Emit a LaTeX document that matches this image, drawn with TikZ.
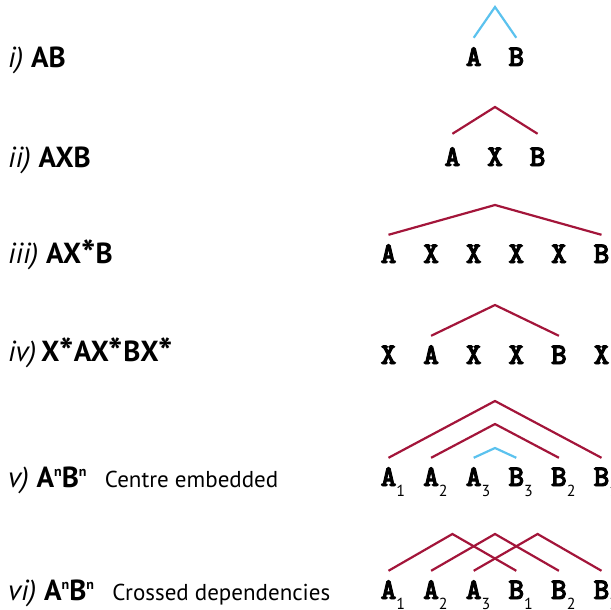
\documentclass[tikz,border=0pt]{standalone}
\usepackage{fontspec}
\usetikzlibrary{positioning}
\newfontfamily\labfont{PT Sans}
\newfontfamily\letterfont{lmmonolt10-bold}[Extension=.otf, FakeBold=3]
\definecolor{arcred}{HTML}{A3153A}
\definecolor{arcblue}{HTML}{5BC2EE}
\tikzset{
  sym/.style={anchor=base, inner sep=0pt, text height=28pt, text depth=0pt,
    font=\letterfont\fontsize{30}{30}\selectfont},
  rowlabel/.style={anchor=base west, inner sep=0pt, font=\labfont\fontsize{29}{29}\selectfont},
  note/.style={anchor=base west, inner sep=0pt, font=\labfont\fontsize{23}{23}\selectfont},
  redarc/.style={draw=arcred, line width=2.2pt},
  bluearc/.style={draw=arcblue, line width=2.2pt}
}
\newcommand{\idx}[1]{\rlap{\raisebox{-10pt}{\labfont\mdseries\fontsize{16}{16}\selectfont #1}}}
\newcommand{\supn}{\raisebox{11pt}{\fontsize{14}{14}\selectfont n}}
\newcommand{\kstar}{\raisebox{-4pt}{\fontsize{38}{38}\selectfont *}}

\begin{document}
\begin{tikzpicture}[x=1pt, y=-1pt]
    \useasboundingbox (0,0) rectangle (611,610);
    % row labels
    \node[rowlabel] (lab-1) at (8,68) {\textit{i)} \textbf{AB}};
    \node[rowlabel] (lab-2) at (8,167) {\textit{ii)} \textbf{AXB}};
    \node[rowlabel] (lab-3) at (8,263) {\textit{iii)} \textbf{AX\kstar B}};
    \node[rowlabel] (lab-4) at (8,361) {\textit{iv)}\,\textbf{X\kstar AX\kstar BX\kstar}};
    \node[rowlabel] (lab-5) at (8,487) {\textit{v)} \textbf{A\supn B\supn}};
    \node[rowlabel] (lab-6) at (8,600) {\textit{vi)} \textbf{A\supn B\supn}};
    \node[note, right=18pt of lab-5.base east, anchor=base west] (note-5) {Centre embedded};
    \node[note, right=18pt of lab-6.base east, anchor=base west] (note-6) {Crossed dependencies};

    % i) AB
    \node[sym] (a-1-1) at (473.7,66) {A};
    \node[sym] (a-1-2) at (516.3,66) {B};
    % ii) AXB
    \node[sym] (a-2-1) at (452.4,166) {A};
    \node[sym] (a-2-2) at (495,166) {X};
    \node[sym] (a-2-3) at (537.6,166) {B};
    % iii) AX*B
    \node[sym] (a-3-1) at (388.5,263) {A};
    \node[sym] (a-3-2) at (431.1,263) {X};
    \node[sym] (a-3-3) at (473.7,263) {X};
    \node[sym] (a-3-4) at (516.3,263) {X};
    \node[sym] (a-3-5) at (558.9,263) {X};
    \node[sym] (a-3-6) at (601.5,263) {B};
    % iv) X*AX*BX*
    \node[sym] (a-4-1) at (388.5,364) {X};
    \node[sym] (a-4-2) at (431.1,364) {A};
    \node[sym] (a-4-3) at (473.7,364) {X};
    \node[sym] (a-4-4) at (516.3,364) {X};
    \node[sym] (a-4-5) at (558.9,364) {B};
    \node[sym] (a-4-6) at (601.5,364) {X};
    % v) centre embedded
    \node[sym] (a-5-1) at (388.5,486) {A\idx{1}};
    \node[sym] (a-5-2) at (431.1,486) {A\idx{2}};
    \node[sym] (a-5-3) at (473.7,486) {A\idx{3}};
    \node[sym] (a-5-4) at (516.3,486) {B\idx{3}};
    \node[sym] (a-5-5) at (558.9,486) {B\idx{2}};
    \node[sym] (a-5-6) at (601.5,486) {B\idx{1}};
    % vi) crossed
    \node[sym] (a-6-1) at (388.5,599) {A\idx{1}};
    \node[sym] (a-6-2) at (431.1,599) {A\idx{2}};
    \node[sym] (a-6-3) at (473.7,599) {A\idx{3}};
    \node[sym] (a-6-4) at (516.3,599) {B\idx{1}};
    \node[sym] (a-6-5) at (558.9,599) {B\idx{2}};
    \node[sym] (a-6-6) at (601.5,599) {B\idx{3}};

    % peaks
    \coordinate (top-1) at (495,7);
    \coordinate (top-2) at (495,107);
    \coordinate (top-3) at (495,205);
    \coordinate (top-4) at (495,305);
    \coordinate (top-5a) at (495,401);
    \coordinate (top-5b) at (495,424);
    \coordinate (top-5c) at (495,448);
    \coordinate (top-6a) at (452.4,534);
    \coordinate (top-6b) at (495,534);
    \coordinate (top-6c) at (537.6,534);

    \draw[bluearc] (a-1-1.north) -- (top-1) -- (a-1-2.north);
    \draw[redarc] ([yshift=4pt]a-2-1.north) -- (top-2) -- ([yshift=4pt]a-2-3.north);
    \draw[redarc] (a-3-1.north) -- (top-3) -- (a-3-6.north);
    \draw[redarc] (a-4-2.north) -- (top-4) -- (a-4-5.north);

    \draw[redarc] (a-5-1.north) -- (top-5a) -- (a-5-6.north);
    \draw[redarc] (a-5-2.north) -- (top-5b) -- (a-5-5.north);
    \draw[bluearc] (a-5-3.north) -- (top-5c) -- (a-5-4.north);

    \draw[redarc] (a-6-1.north) -- (top-6a) -- (a-6-4.north);
    \draw[redarc] (a-6-2.north) -- (top-6b) -- (a-6-5.north);
    \draw[redarc] (a-6-3.north) -- (top-6c) -- (a-6-6.north);
\end{tikzpicture}
\end{document}
